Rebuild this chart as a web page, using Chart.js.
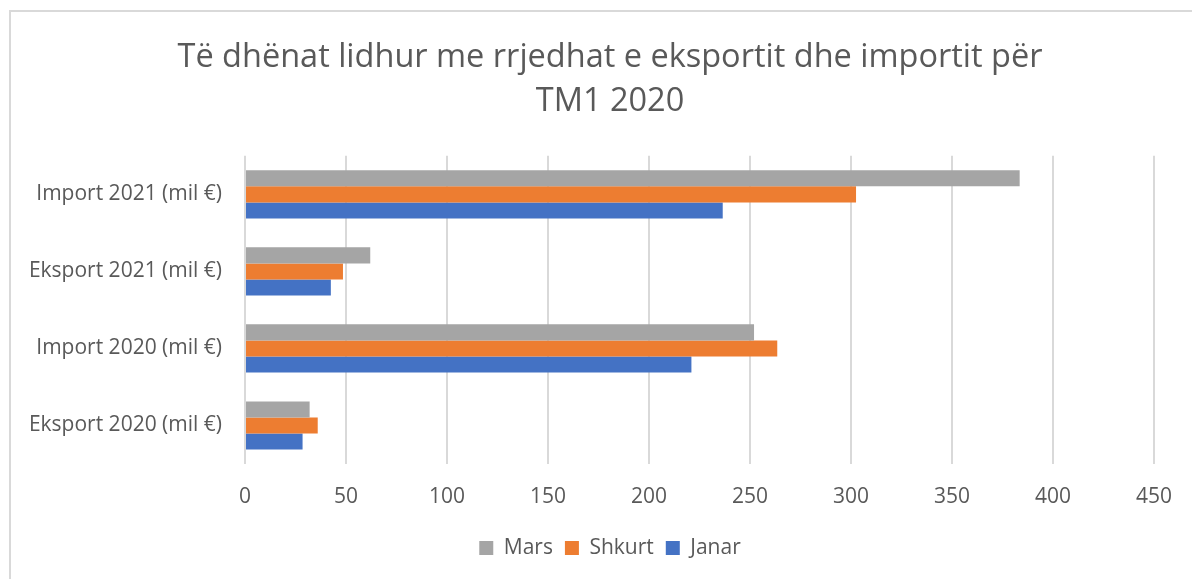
<!DOCTYPE html>
<html><head><meta charset="utf-8">
<script src="https://cdn.jsdelivr.net/npm/chart.js@4.4.0/dist/chart.umd.min.js"></script>
<style>
html,body{margin:0;padding:0;background:#fff;width:1192px;height:579px;overflow:hidden;}
#frame{position:absolute;left:9px;top:10px;width:1300px;height:700px;border:2px solid #d9d9d9;}
#wrap{position:absolute;left:0;top:0;width:1192px;height:579px;}
</style></head><body>
<div id="frame"></div>
<div id="wrap"><canvas id="c" width="1192" height="579"></canvas></div>
<script>
const categories = ["Import 2021 (mil €)", "Eksport 2021 (mil €)", "Import 2020 (mil €)", "Eksport 2020 (mil €)"];
const seriesNames = ["Mars", "Shkurt", "Janar"];
const mars   = [383.5, 62, 252, 32];
const shkurt = [302.5, 48.5, 263.5, 36];
const janar  = [236.5, 42.5, 221, 28.5];
const xTicks = [0, 50, 100, 150, 200, 250, 300, 350, 400, 450];
const titleLines = ["Të dhënat lidhur me rrjedhat e eksportit dhe importit për", "TM1 2020"];

const colors = ["#a5a5a5", "#ed7d31", "#4472c4"];
const seriesValues = [mars, shkurt, janar];
const FONT = "'Open Sans', 'Noto Sans', sans-serif";
const TXT = "#595959";

new Chart(document.getElementById('c'), {
  type: 'bar',
  data: {
    labels: categories,
    datasets: seriesNames.map((n, i) => ({
      label: n,
      data: seriesValues[i],
      backgroundColor: colors[i],
      borderWidth: 0,
      categoryPercentage: 0.625,
      barPercentage: 1.0
    }))
  },
  options: {
    indexAxis: 'y',
    responsive: false,
    animation: false,
    devicePixelRatio: 1,
    layout: { padding: { left: 28, right: 0, top: 0, bottom: 10.5 } },
    plugins: {
      title: {
        display: true,
        text: titleLines,
        color: TXT,
        font: { family: FONT, size: 32.5, weight: 'normal', lineHeight: 1.33 },
        padding: { top: 36.4, bottom: 33 }
      },
      legend: {
        display: true,
        position: 'bottom',
        labels: {
          color: TXT,
          font: { family: FONT, size: 21 },
          boxWidth: 14, boxHeight: 14,
          padding: 12
        }
      },
      tooltip: { enabled: false }
    },
    scales: {
      x: {
        type: 'linear',
        min: 0, max: 450,
        afterBuildTicks: (s) => { s.ticks = xTicks.map(v => ({ value: v })); },
        afterFit: (s) => { s.height = 61.5; },
        grid: { color: '#d9d9d9', lineWidth: 2, drawTicks: false },
        border: { display: false },
        ticks: { color: TXT, font: { family: FONT, size: 21 }, padding: 20, maxRotation: 0 }
      },
      y: {
        type: 'category',
        afterFit: (s) => { s.width = 217; },
        grid: { display: false, drawTicks: false },
        border: { display: false },
        ticks: { color: TXT, font: { family: FONT, size: 21 }, padding: 23 }
      },
      yRight: {
        type: 'category',
        position: 'right',
        display: true,
        afterFit: (s) => { s.width = 29; },
        grid: { display: false, drawTicks: false },
        border: { display: false },
        ticks: { display: false }
      }
    }
  }
});
</script>
</body></html>
